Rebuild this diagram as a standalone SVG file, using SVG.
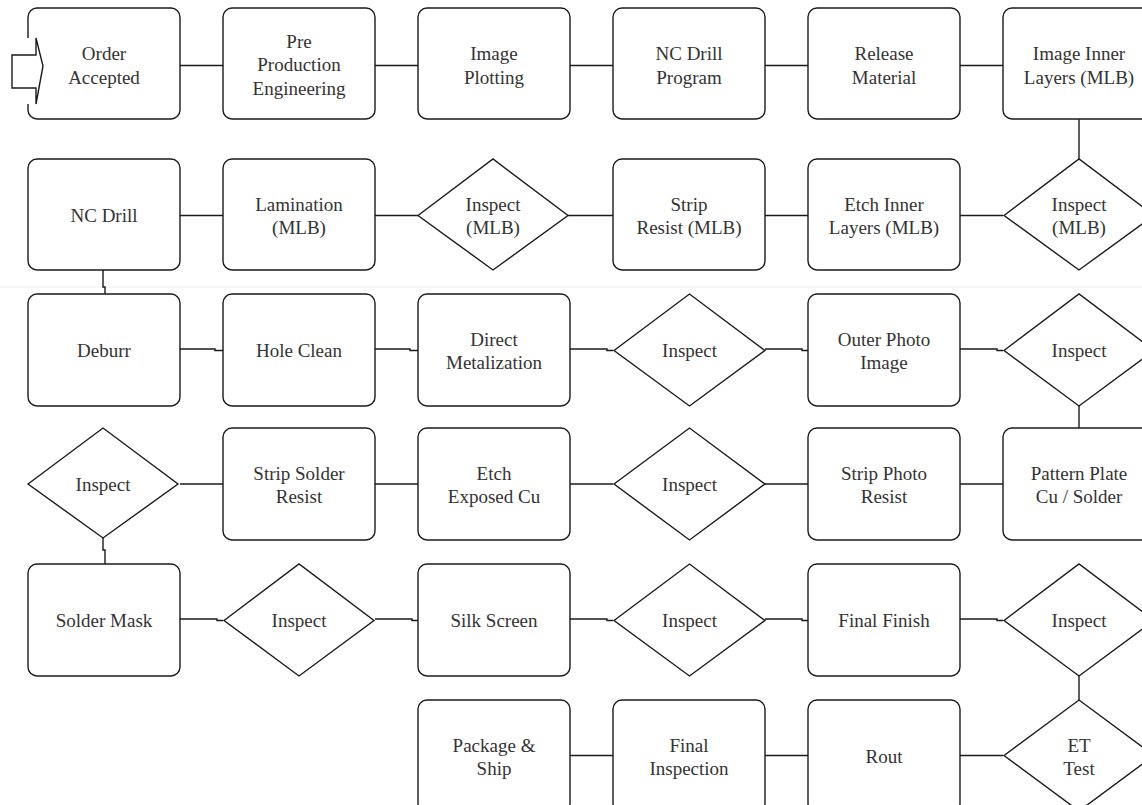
<svg xmlns="http://www.w3.org/2000/svg" width="1142" height="805" viewBox="0 0 1142 805">
<style>
.b{fill:#fff;stroke:#1a1a1a;stroke-width:1.4}
.d{fill:#fff;stroke:#1a1a1a;stroke-width:1.4;stroke-linejoin:miter}
.c{fill:none;stroke:#1a1a1a;stroke-width:1.4}
text{font-family:"Liberation Serif","Times New Roman",serif;font-size:19px;fill:#333;text-anchor:middle}
</style>
<rect x="0" y="0" width="1142" height="805" fill="#fff"/>
<line x1="0" y1="287" x2="1142" y2="287" stroke="#f1ede8" stroke-width="1"/>
<g id="connectors">
<line class="c" x1="180" y1="65.5" x2="223" y2="65.5"/>
<line class="c" x1="375" y1="65.5" x2="418" y2="65.5"/>
<line class="c" x1="570" y1="65.5" x2="613" y2="65.5"/>
<line class="c" x1="765" y1="65.5" x2="808" y2="65.5"/>
<line class="c" x1="960" y1="65.5" x2="1003" y2="65.5"/>
<line class="c" x1="1079" y1="119" x2="1079" y2="159"/>
<line class="c" x1="180" y1="215.5" x2="223" y2="215.5"/>
<line class="c" x1="375" y1="215.5" x2="418" y2="215.5"/>
<line class="c" x1="568" y1="215.5" x2="613" y2="215.5"/>
<line class="c" x1="765" y1="215.5" x2="808" y2="215.5"/>
<line class="c" x1="960" y1="215.5" x2="1003" y2="215.5"/>
<polyline class="c" points="103,270 103,287 105,287 105,294"/>
<polyline class="c" points="180,349 215,349 215,350.5 223,350.5"/>
<polyline class="c" points="375,349 410,349 410,350.5 418,350.5"/>
<polyline class="c" points="570,349 607,349 607,350.5 613,350.5"/>
<polyline class="c" points="765,349 802,349 802,350.5 808,350.5"/>
<polyline class="c" points="960,349 997,349 997,350.5 1003,350.5"/>
<line class="c" x1="1079" y1="406" x2="1079" y2="428"/>
<line class="c" x1="180" y1="484" x2="223" y2="484"/>
<line class="c" x1="375" y1="484" x2="418" y2="484"/>
<line class="c" x1="570" y1="484" x2="613" y2="484"/>
<line class="c" x1="765" y1="484" x2="808" y2="484"/>
<line class="c" x1="960" y1="484" x2="1003" y2="484"/>
<polyline class="c" points="103,538 103,550 105,550 105,564"/>
<polyline class="c" points="180,619 217,619 217,620.5 223,620.5"/>
<polyline class="c" points="375,619 412,619 412,620.5 418,620.5"/>
<polyline class="c" points="570,619 607,619 607,620.5 613,620.5"/>
<polyline class="c" points="765,619 802,619 802,620.5 808,620.5"/>
<polyline class="c" points="960,619 997,619 997,620.5 1003,620.5"/>
<line class="c" x1="1079" y1="676" x2="1079" y2="700"/>
<line class="c" x1="570" y1="755.5" x2="613" y2="755.5"/>
<line class="c" x1="765" y1="755.5" x2="808" y2="755.5"/>
<line class="c" x1="960" y1="755.5" x2="1003" y2="755.5"/>
</g>
<g id="order-accepted"><rect class="b" x="28" y="8" width="152" height="111" rx="9"/><text x="104" y="60">Order</text><text x="104" y="83.5">Accepted</text></g>
<g id="start-arrow"><rect x="26" y="38" width="10" height="66" fill="#fff"/><polygon class="d" points="12,55 36,55 36,38 43,66 36,104 36,88 12,88"/></g>
<g id="pre-production"><rect class="b" x="223" y="8" width="152" height="111" rx="9"/><text x="299" y="47.5">Pre</text><text x="299" y="71">Production</text><text x="299" y="94.5">Engineering</text></g>
<g id="image-plotting"><rect class="b" x="418" y="8" width="152" height="111" rx="9"/><text x="494" y="60">Image</text><text x="494" y="83.5">Plotting</text></g>
<g id="nc-drill-program"><rect class="b" x="613" y="8" width="152" height="111" rx="9"/><text x="689" y="60">NC Drill</text><text x="689" y="83.5">Program</text></g>
<g id="release-material"><rect class="b" x="808" y="8" width="152" height="111" rx="9"/><text x="884" y="60">Release</text><text x="884" y="83.5">Material</text></g>
<g id="image-inner"><rect class="b" x="1003" y="8" width="152" height="111" rx="9"/><text x="1079" y="60">Image Inner</text><text x="1079" y="83.5">Layers (MLB)</text></g>
<g id="nc-drill"><rect class="b" x="28" y="159" width="152" height="111" rx="9"/><text x="104" y="222">NC Drill</text></g>
<g id="lamination"><rect class="b" x="223" y="159" width="152" height="111" rx="9"/><text x="299" y="210.5">Lamination</text><text x="299" y="234">(MLB)</text></g>
<g id="inspect-mlb-1"><polygon class="d" points="418,215.5 493,159 568,215.5 493,270"/><text x="493" y="210.5">Inspect</text><text x="493" y="234">(MLB)</text></g>
<g id="strip-resist"><rect class="b" x="613" y="159" width="152" height="111" rx="9"/><text x="689" y="210.5">Strip</text><text x="689" y="234">Resist (MLB)</text></g>
<g id="etch-inner"><rect class="b" x="808" y="159" width="152" height="111" rx="9"/><text x="884" y="210.5">Etch Inner</text><text x="884" y="234">Layers (MLB)</text></g>
<g id="inspect-mlb-2"><polygon class="d" points="1004,215.5 1079,159 1154,215.5 1079,270"/><text x="1079" y="210.5">Inspect</text><text x="1079" y="234">(MLB)</text></g>
<g id="deburr"><rect class="b" x="28" y="294" width="152" height="112" rx="9"/><text x="104" y="357">Deburr</text></g>
<g id="hole-clean"><rect class="b" x="223" y="294" width="152" height="112" rx="9"/><text x="299" y="357">Hole Clean</text></g>
<g id="direct-metalization"><rect class="b" x="418" y="294" width="152" height="112" rx="9"/><text x="494" y="345.5">Direct</text><text x="494" y="369">Metalization</text></g>
<g id="inspect-3a"><polygon class="d" points="614,350.5 689.5,294 765,350.5 689.5,406"/><text x="689.5" y="357">Inspect</text></g>
<g id="outer-photo"><rect class="b" x="808" y="294" width="152" height="112" rx="9"/><text x="884" y="345.5">Outer Photo</text><text x="884" y="369">Image</text></g>
<g id="inspect-3b"><polygon class="d" points="1004,350.5 1079,294 1154,350.5 1079,406"/><text x="1079" y="357">Inspect</text></g>
<g id="inspect-4a"><polygon class="d" points="28,484 103,428 178,484 103,538"/><text x="103" y="491">Inspect</text></g>
<g id="strip-solder-resist"><rect class="b" x="223" y="428" width="152" height="112" rx="9"/><text x="299" y="479.5">Strip Solder</text><text x="299" y="503">Resist</text></g>
<g id="etch-exposed"><rect class="b" x="418" y="428" width="152" height="112" rx="9"/><text x="494" y="479.5">Etch</text><text x="494" y="503">Exposed Cu</text></g>
<g id="inspect-4b"><polygon class="d" points="614,484 689.5,428 765,484 689.5,540"/><text x="689.5" y="491">Inspect</text></g>
<g id="strip-photo-resist"><rect class="b" x="808" y="428" width="152" height="112" rx="9"/><text x="884" y="479.5">Strip Photo</text><text x="884" y="503">Resist</text></g>
<g id="pattern-plate"><rect class="b" x="1003" y="428" width="152" height="112" rx="9"/><text x="1079" y="479.5">Pattern Plate</text><text x="1079" y="503">Cu / Solder</text></g>
<g id="solder-mask"><rect class="b" x="28" y="564" width="152" height="112" rx="9"/><text x="104" y="627">Solder Mask</text></g>
<g id="inspect-5a"><polygon class="d" points="224,620.5 299,564 374,620.5 299,676"/><text x="299" y="627">Inspect</text></g>
<g id="silk-screen"><rect class="b" x="418" y="564" width="152" height="112" rx="9"/><text x="494" y="627">Silk Screen</text></g>
<g id="inspect-5b"><polygon class="d" points="614,620.5 689.5,564 765,620.5 689.5,676"/><text x="689.5" y="627">Inspect</text></g>
<g id="final-finish"><rect class="b" x="808" y="564" width="152" height="112" rx="9"/><text x="884" y="627">Final Finish</text></g>
<g id="inspect-5c"><polygon class="d" points="1004,620.5 1079,564 1154,620.5 1079,676"/><text x="1079" y="627">Inspect</text></g>
<g id="package-ship"><rect class="b" x="418" y="700" width="152" height="112" rx="9"/><text x="494" y="751.5">Package &amp;</text><text x="494" y="775">Ship</text></g>
<g id="final-inspection"><rect class="b" x="613" y="700" width="152" height="112" rx="9"/><text x="689" y="751.5">Final</text><text x="689" y="775">Inspection</text></g>
<g id="rout"><rect class="b" x="808" y="700" width="152" height="112" rx="9"/><text x="884" y="763">Rout</text></g>
<g id="et-test"><polygon class="d" points="1004,755.5 1079,700 1154,755.5 1079,811"/><text x="1079" y="751.5">ET</text><text x="1079" y="775">Test</text></g>
</svg>
